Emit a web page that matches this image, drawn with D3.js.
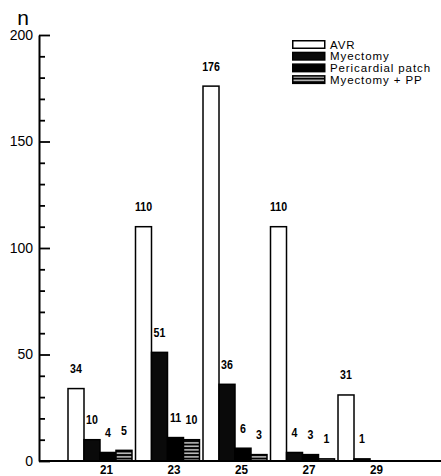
<!DOCTYPE html>
<html>
<head>
<meta charset="utf-8">
<script src="https://cdn.jsdelivr.net/npm/d3@7"></script>
<style>
  body { margin: 0; background: #fff; }
  svg { display: block; }
  .num { font-family: "Liberation Sans", Arial, sans-serif; font-weight: bold; font-size: 12.5px; }
  .xlab { font-family: "Liberation Sans", Arial, sans-serif; font-weight: bold; font-size: 13px; }
  .tick text { font-family: "Liberation Sans", Arial, sans-serif; font-size: 14px; }
  .legend text { font-family: "Liberation Sans", Arial, sans-serif; font-size: 11.5px; letter-spacing: 0.9px; }
</style>
</head>
<body>
<svg id="chart" width="441" height="476"></svg>
<script>
// valve sizes (group labels)
const sizes = ["21", "23", "25", "27", "29"];
const seriesNames = ["AVR", "Myectomy", "Pericardial patch", "Myectomy + PP"];

// counts per size, one array per procedure
const avr = [34, 110, 176, 110, 31];
const myectomy = [10, 51, 36, 4, 1];
const pericardial = [4, 11, 6, 3, 0];
const myectomyPP = [5, 10, 3, 1, 0];

const yTicksMajor = [0, 50, 100, 150, 200];

let series = [avr, myectomy, pericardial, myectomyPP];
let rows = sizes.map((s, i) => ({
    size: s,
    values: seriesNames.map((name, k) => ({ name: name, value: series[k][i] }))
}));

let svg = d3.select("#chart");

// hatch for Myectomy + PP
let defs = svg.append("defs");
let pat = defs.append("pattern")
    .attr("id", "hatch")
    .attr("patternUnits", "userSpaceOnUse")
    .attr("width", 6)
    .attr("height", 3.5);
pat.append("rect").attr("width", 6).attr("height", 3.5).attr("fill", "#000");
pat.append("rect").attr("y", 1.2).attr("width", 6).attr("height", 1.2).attr("fill", "#fff");

let fills = {
    "AVR": "#fff",
    "Myectomy": "#0a0a0a",
    "Pericardial patch": "#000",
    "Myectomy + PP": "url(#hatch)"
};

let y = d3.scaleLinear().domain([0, 200]).range([461, 35]);

let x0 = d3.scaleBand()
    .domain(sizes)
    .range([68, 402])
    .paddingInner(0.052)
    .paddingOuter(0);

let x1 = d3.scaleBand()
    .domain(seriesNames)
    .range([0, x0.bandwidth()]);

// bars
let groups = svg.append("g")
    .selectAll("g")
    .data(rows)
    .join("g")
    .attr("transform", d => "translate(" + x0(d.size) + ",0)");

groups.selectAll("rect")
    .data(d => d.values.filter(v => v.value > 0))
    .join("rect")
    .attr("x", d => x1(d.name))
    .attr("y", d => y(d.value))
    .attr("width", x1.bandwidth())
    .attr("height", d => y(0) - y(d.value))
    .attr("fill", d => fills[d.name])
    .attr("stroke", "#000")
    .attr("stroke-width", 1.5);

// value labels, squeezed to look like the condensed print face
groups.selectAll("text")
    .data(d => d.values.filter(v => v.value > 0))
    .join("text")
    .attr("class", "num")
    .attr("transform", d => "translate(" + (x1(d.name) + x1.bandwidth() / 2) + "," + (y(d.value) - 15.5) + ") scale(0.85,1)")
    .attr("text-anchor", "middle")
    .text(d => d.value);

// y axis, ticks pointing inward
let minor = d3.range(10, 200, 10).filter(v => v % 50 != 0);
svg.append("g")
    .attr("transform", "translate(39,0)")
    .call(d3.axisLeft(y).tickValues(minor).tickSize(-6).tickFormat(""))
    .call(g => g.select(".domain").remove())
    .selectAll("line").attr("stroke-width", 1.8);

let yAxis = svg.append("g")
    .attr("transform", "translate(39,0)")
    .call(d3.axisLeft(y).tickValues(yTicksMajor).tickSizeInner(-11).tickSizeOuter(0).tickPadding(6));
yAxis.select(".domain").attr("stroke-width", 2);
yAxis.selectAll(".tick line").attr("stroke-width", 1.8);
yAxis.selectAll(".tick text").attr("fill", "#000");

// y title
svg.append("text")
    .attr("x", 23)
    .attr("y", 25)
    .attr("text-anchor", "middle")
    .style("font-family", "Liberation Sans, Arial, sans-serif")
    .style("font-size", "21px")
    .text("n");

// x baseline
svg.append("line")
    .attr("x1", 39)
    .attr("x2", 441)
    .attr("y1", y(0))
    .attr("y2", y(0))
    .attr("stroke", "#000")
    .attr("stroke-width", 2);

// x labels, sitting a little right of group centre
svg.append("g")
    .selectAll("text")
    .data(sizes)
    .join("text")
    .attr("class", "xlab")
    .attr("transform", d => "translate(" + (x0(d) + x0.bandwidth() * 0.6) + ",474) scale(0.9,1)")
    .attr("text-anchor", "middle")
    .text(d => d);

// legend
let legend = svg.append("g")
    .attr("class", "legend")
    .attr("transform", "translate(292,40)");

let items = legend.selectAll("g")
    .data(seriesNames)
    .join("g")
    .attr("transform", (d, i) => "translate(0," + (i * 11.7) + ")");

items.append("rect")
    .attr("x", 0.75)
    .attr("y", 0.75)
    .attr("width", 32)
    .attr("height", 7.5)
    .attr("fill", d => fills[d])
    .attr("stroke", "#000")
    .attr("stroke-width", 1.5);

items.append("text")
    .attr("x", 38)
    .attr("y", 8.5)
    .text(d => d);
</script>
</body>
</html>
